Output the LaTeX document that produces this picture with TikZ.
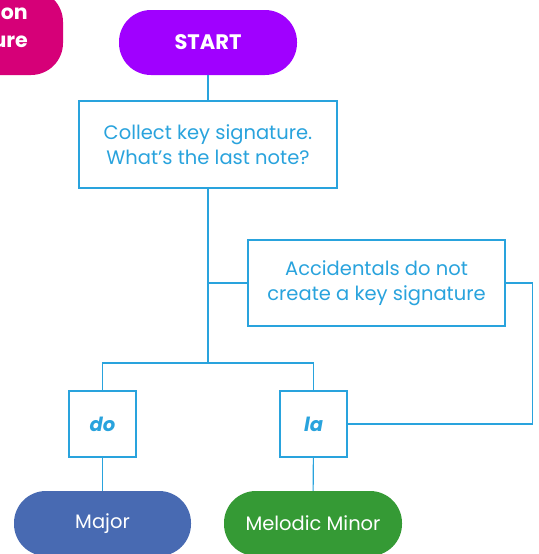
\documentclass[tikz,border=0pt]{standalone}
\usepackage{fontspec}
\setmainfont{Poppins}
\usetikzlibrary{positioning}

\definecolor{lineblue}{RGB}{41,163,221}
\definecolor{startpurple}{RGB}{160,0,255}
\definecolor{pinkish}{RGB}{214,0,120}
\definecolor{majorblue}{RGB}{72,106,178}
\definecolor{minorgreen}{RGB}{53,154,53}

\tikzset{
  box/.style={draw=lineblue, line width=1.1pt, text=lineblue, align=center,
    inner sep=0pt, font=\fontsize{19.5}{25}\selectfont},
  pill/.style={rounded corners=32pt, inner sep=0pt, minimum height=65pt,
    text=white, font=\fontsize{19.5}{25}\selectfont},
  link/.style={draw=lineblue, line width=1.1pt}
}

\begin{document}
\begin{tikzpicture}[x=1pt, y=-1pt]
  \clip (0,0) rectangle (538,554);
  \fill[white] (0,0) rectangle (538,554);
  % nodes
  \node[pill, fill=pinkish, minimum width=180pt, minimum height=85pt] (back) at (-27,32.5) {};
  \node[anchor=east, align=right, text=white, inner sep=0pt,
    font=\fontsize{20.5}{28}\bfseries\selectfont] (backtext) at (28,28) {on\\ure};
  \node[pill, fill=startpurple, minimum width=178pt,
    font=\fontsize{21}{25}\bfseries\selectfont] (start) at (208,42.5) {START};
  \node[box, minimum width=258pt, minimum height=87pt] (collect) at (208,144.5)
    {Collect key signature.\\What’s the last note?};
  \node[box, minimum width=257pt, minimum height=86pt] (accid) at (376.5,283)
    {Accidentals do not\\create a key signature};
  \node[box, minimum width=67pt, minimum height=66pt,
    font=\fontsize{19.5}{25}\bfseries\itshape\selectfont] (do) at (102.5,424) {do};
  \node[box, minimum width=67pt, minimum height=66pt,
    font=\fontsize{19.5}{25}\bfseries\itshape\selectfont] (la) at (313.5,424) {la};
  \node[pill, fill=majorblue, minimum width=177pt] (major) at (102.5,523.5) {Major};
  \node[pill, fill=minorgreen, minimum width=178pt] (minor) at (313,523.5) {Melodic Minor};
  % connectors
  \coordinate (split) at (collect.south |- 0,363);
  \draw[link] (start) -- (collect);
  \draw[link] (collect.south) -- (split);
  \draw[link] (collect.south |- accid.west) -- (accid.west);
  \draw[link] (do.north) |- (split) -| (la.north);
  \draw[link] (accid.east) -- ++(27,0) |- (la.east);
  \draw[link] (do) -- (major);
  \draw[link] (la) -- (minor);
\end{tikzpicture}
\end{document}
